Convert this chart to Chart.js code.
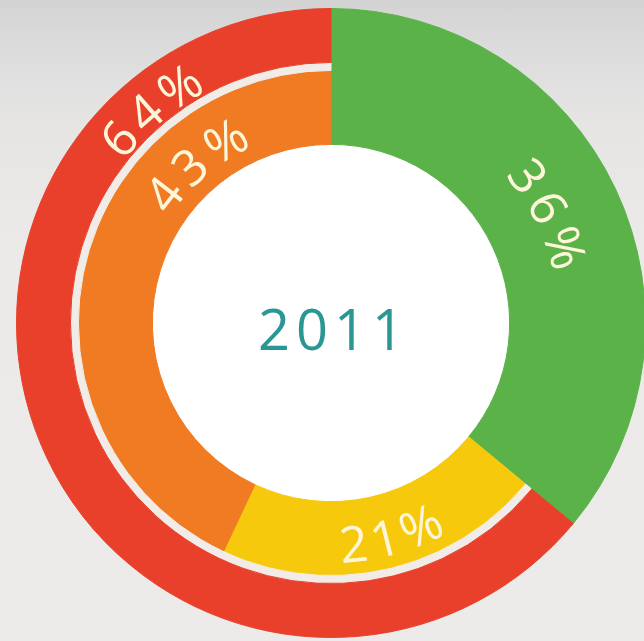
<!DOCTYPE html>
<html><head><meta charset="utf-8">
<script src="https://cdn.jsdelivr.net/npm/chart.js@4.4.0/dist/chart.umd.min.js"></script>
<style>
html,body{margin:0;padding:0;width:644px;height:641px;overflow:hidden;}
body{background:linear-gradient(to bottom,#d3d3d3 0px,#dcdcdc 50px,#e6e5e4 120px,#ebeae9 250px,#ecebea 641px);position:relative;}
#wrap{position:absolute;left:16px;top:8px;width:630px;height:630px;}
</style></head><body>
<div id="wrap"><canvas id="c"></canvas></div>
<script>
// ---- data ----
const outerCategories = ['Green', 'Red'];
const outerValues = [36, 64];
const innerCategories = ['Green', 'Yellow', 'Orange'];
const innerValues = [36, 21, 43];
const centerLabel = '2011';

// ---- styles ----
const GREEN = '#5ab249', RED = '#e8402a', ORANGE = '#f07b22', YELLOW = '#f6c90c', GAP = '#f1ece7';
const LABEL_COLOR = '#fff6d9';
const FONT = '"Open Sans", "DejaVu Sans", sans-serif';

// label placements: dataset, arc index, fraction along arc, radius
const labelSpots = [
  {ds: 0, i: 0, at: 0.49, r: 246, flip: false},
  {ds: 0, i: 1, at: 0.826, r: 281, flip: false},
  {ds: 2, i: 1, at: 0.46, r: 222, flip: true},
  {ds: 2, i: 2, at: 0.74, r: 211, flip: false}
];

function drawArcText(ctx, text, cx, cy, r, phi, fs, spacing, flip) {
  ctx.save();
  ctx.font = '400 ' + fs + 'px ' + FONT;
  ctx.fillStyle = LABEL_COLOR;
  ctx.textAlign = 'center';
  ctx.textBaseline = 'alphabetic';
  const chars = text.split('');
  const widths = chars.map(c => ctx.measureText(c).width);
  const W = widths.reduce((a, b) => a + b, 0) + spacing * (chars.length - 1);
  const capH = 0.72 * fs;
  const rb = flip ? r + capH / 2 : r - capH / 2;
  let cum = 0;
  chars.forEach((ch, k) => {
    const w = widths[k];
    let a;
    if (!flip) a = phi - W / (2 * rb) + (cum + w / 2) / rb;
    else a = phi + W / (2 * rb) - (cum + w / 2) / rb;
    ctx.save();
    ctx.translate(cx + rb * Math.cos(a), cy + rb * Math.sin(a));
    ctx.rotate(flip ? a - Math.PI / 2 : a + Math.PI / 2);
    ctx.fillText(ch, 0, 0);
    ctx.restore();
    cum += w + spacing;
  });
  ctx.restore();
}

const ringPlugin = {
  id: 'ringPlugin',
  beforeDatasetsDraw(chart) {
    const arc = chart.getDatasetMeta(2).data[0];
    const ctx = chart.ctx;
    ctx.save();
    ctx.beginPath();
    ctx.arc(arc.x, arc.y, arc.innerRadius + 0.5, 0, Math.PI * 2);
    ctx.fillStyle = '#ffffff';
    ctx.fill();
    ctx.restore();
  },
  afterDatasetsDraw(chart) {
    const ctx = chart.ctx;
    labelSpots.forEach(s => {
      const arc = chart.getDatasetMeta(s.ds).data[s.i];
      const v = chart.data.datasets[s.ds].data[s.i];
      const phi = arc.startAngle + (arc.endAngle - arc.startAngle) * s.at;
      drawArcText(ctx, v + '%', arc.x, arc.y, s.r, phi, 50, 6, s.flip);
    });
    // center label
    const a0 = chart.getDatasetMeta(0).data[0];
    ctx.save();
    ctx.font = '400 56px ' + FONT;
    ctx.fillStyle = '#2b9795';
    ctx.textBaseline = 'alphabetic';
    ctx.textAlign = 'left';
    const chars = centerLabel.split('');
    const sp = 6;
    const ws = chars.map(c => ctx.measureText(c).width);
    const W = ws.reduce((a, b) => a + b, 0) + sp * (chars.length - 1);
    let x = a0.x - W / 2;
    chars.forEach((c, k) => { ctx.fillText(c, x, a0.y + 27); x += ws[k] + sp; });
    ctx.restore();
  }
};

new Chart(document.getElementById('c'), {
  type: 'doughnut',
  data: {
    labels: innerCategories,
    datasets: [
      {label: 'outer', data: outerValues, backgroundColor: [GREEN, RED], borderColor: [GREEN, RED], borderWidth: 1, weight: 54},
      {label: 'gap', data: outerValues, backgroundColor: [GREEN, GAP], borderColor: [GREEN, GAP], borderWidth: 1, weight: 8},
      {label: 'inner', data: innerValues, backgroundColor: [GREEN, YELLOW, ORANGE], borderColor: [GREEN, YELLOW, ORANGE], borderWidth: 1, weight: 74}
    ]
  },
  options: {
    responsive: true,
    maintainAspectRatio: false,
    animation: false,
    cutout: '56.8%',
    layout: {padding: 0},
    plugins: {legend: {display: false}, tooltip: {enabled: false}}
  },
  plugins: [ringPlugin]
});
</script>
</body></html>
